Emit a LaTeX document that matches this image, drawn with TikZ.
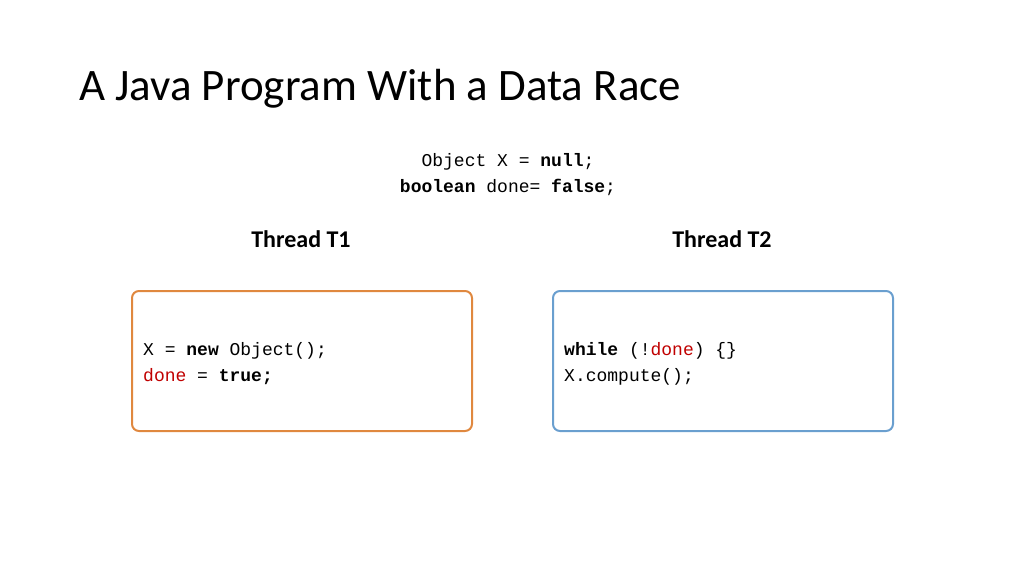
\documentclass[tikz,border=0pt]{standalone}
\usepackage{fontspec}
\setmainfont{Carlito}
\setmonofont{Liberation Mono}
\definecolor{orng}{HTML}{E0883F}
\definecolor{blu}{HTML}{6A9FCF}
\definecolor{rd}{HTML}{C00000}
\begin{document}
\begin{tikzpicture}[x=1pt,y=-1pt,
  box/.style={line width=2pt,rounded corners=7pt},
  code/.style={anchor=base west,inner sep=0,font=\fontsize{18}{22}\ttfamily},
  hdr/.style={anchor=base,inner sep=0,font=\fontsize{24}{28}\bfseries}]
\useasboundingbox (0,0) rectangle (1024,576);
\node[anchor=base west,inner sep=0,font=\fontsize{45}{50}\selectfont] (title) at (79,100) {A Java Program With a Data Race};
\node[code,anchor=base] (l1) at (508,166) {Object X = \textbf{null};};
\node[code,anchor=base] (l2) at (508,192) {\textbf{boolean} done= \textbf{false};};
\node[hdr] (t1) at (301,247) {Thread T1};
\node[hdr] (t2) at (722,247) {Thread T2};
\draw[box,orng] (132,291) rectangle (472,431);
\draw[box,blu] (553,291) rectangle (893,431);
\node[code] (a1) at (143,355) {X = \textbf{new} Object();};
\node[code] (a2) at (143,381) {\textcolor{rd}{done} = \textbf{true;}};
\node[code] (b1) at (564,355) {\textbf{while} (!\textcolor{rd}{done}) \{\}};
\node[code] (b2) at (564,381) {X.compute();};
\end{tikzpicture}
\end{document}
